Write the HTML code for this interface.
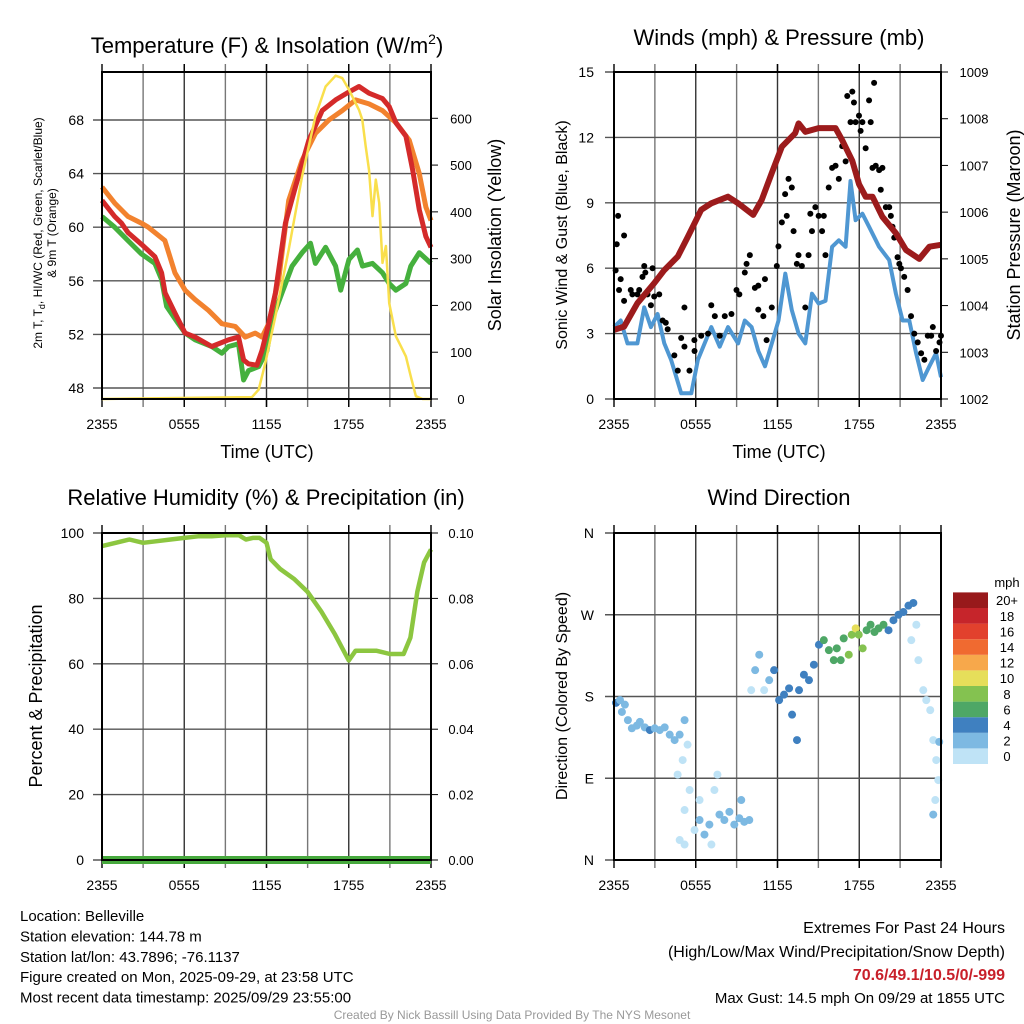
<!DOCTYPE html>
<html><head><meta charset="utf-8"><style>
html,body{margin:0;padding:0;background:#fff;}
svg{display:block;font-family:"Liberation Sans",sans-serif;}
</style></head><body>
<svg id="fig" width="1024" height="1024" viewBox="0 0 1024 1024"></svg>
<script>
// ---------- DATA ----------
const xTickLabels=["2355","0555","1155","1755","2355"];
const tempTicks=[48,52,56,60,64,68];
const solarTicks=[0,100,200,300,400,500,600];
const windTicks=[0,3,6,9,12,15];
const presTicks=[1002,1003,1004,1005,1006,1007,1008,1009];
const rhTicks=[0,20,40,60,80,100];
const precipTicks=["0.00","0.02","0.04","0.06","0.08","0.10"];
const dirTicks=["N","E","S","W","N"];
const cbLabels=["0","2","4","6","8","10","12","14","16","18","20+"];
const cbColors=["#bfe3f6","#7db9e2","#3f80c0","#4ea766","#84c250","#e6de5a","#f7a84b","#f06a30","#e2412d","#c6252b","#98191b"];

const redT=[0,0.93,1.42,1.9,2.9,3.86,4.35,4.6,5.32,6.06,6.79,8.01,9.23,9.96,10.33,10.69,11.3,11.67,12.16,12.65,13.38,14.11,15.09,16.06,17.04,18.02,18.75,19.48,20.46,20.95,21.44,22.17,22.66,23.15,23.63,24];
const redV=[62.0,60.8,60.3,59.6,58.7,57.8,56.6,55.1,53.6,52.1,51.8,51.1,51.6,51.8,50.1,49.8,49.7,50.8,52.8,55.1,60.3,63.0,66.5,68.7,69.5,70.1,70.5,70.0,69.6,69.0,67.8,66.8,64.3,61.3,59.3,58.5];
const orT=[0,0.93,1.9,2.88,3.37,4.59,5.32,6.06,6.79,7.76,8.74,9.72,10.45,11.18,11.67,12.16,12.89,13.62,14.6,15.57,16.55,17.53,18.5,19.48,20.46,21.44,22.41,23.15,23.63,24];
const orV=[63.0,61.8,60.8,60.3,60.0,59.0,56.6,55.3,54.6,53.8,52.8,52.6,51.8,52.1,51.8,52.8,56.1,62.0,65.0,67.0,68.0,68.7,69.5,69.2,68.7,67.8,66.5,64.0,61.5,60.5];
const grT=[0,0.93,1.9,2.88,3.86,4.35,4.71,5.57,6.06,6.79,8.01,8.74,9.23,9.96,10.33,10.69,11.43,12.04,12.4,13.13,13.87,14.6,15.21,15.57,16.31,17.04,17.41,18.02,18.63,19.0,19.73,20.46,20.95,21.44,22.17,22.53,23.15,24];
const grV=[60.8,60.0,59.0,58.0,57.3,56.1,54.1,52.8,52.1,51.6,51.1,50.6,51.1,51.3,48.6,49.3,49.6,50.8,53.1,55.1,57.1,58.1,58.8,57.3,58.5,57.1,55.3,57.6,58.3,57.1,57.3,56.6,55.8,55.3,55.8,57.1,58.1,57.3];
const solT=[0,10.94,11.43,11.91,12.65,13.62,14.6,15.57,16.31,17.04,17.53,18.02,18.75,18.99,19.24,19.48,19.73,19.97,20.22,20.46,20.71,20.95,21.44,21.8,22.17,22.53,22.9,23.39,24];
const solV=[0,4,20,77,177,319,476,604,668,691,686,661,618,597,540,490,391,469,419,291,327,205,134,113,91,48,6,0,0];

const windT=[0,0.49,0.99,1.72,2.22,2.71,3.2,3.69,4.19,4.93,5.67,6.16,7.14,7.76,8.37,9.11,9.6,10.1,10.59,11.08,11.58,12.07,12.57,13.05,13.55,14.04,14.53,15.02,15.52,16.01,16.5,17.0,17.36,17.73,18.23,18.72,19.46,20.2,20.69,21.18,21.67,22.17,22.66,23.15,23.64,24];
const windV=[3.3,3.6,2.55,2.55,4.2,3.3,3.9,2.55,1.8,0.26,0.26,1.8,3.3,2.4,3.3,2.55,3.6,3.3,2.2,1.5,2.55,3.6,5.75,4.08,3.0,2.55,4.83,4.38,4.5,6.98,7.28,6.98,10.0,8.2,8.5,7.9,6.98,6.37,4.83,3.6,3.6,2.1,0.87,1.5,2.1,1.0];
const gustT=[0.12,0.2,0.3,0.49,0.74,0.37,0.74,1.23,1.72,2.09,2.22,2.46,2.71,2.83,3.32,3.57,3.94,4.43,4.68,4.93,5.17,5.54,5.91,6.4,6.9,7.14,7.76,8.13,8.62,8.99,9.6,9.97,10.34,10.59,11.2,11.58,11.95,12.07,12.32,12.56,12.81,13.05,13.18,13.42,13.79,14.04,14.28,14.41,14.78,15.27,15.52,15.76,16.26,16.75,17.12,17.49,17.36,17.98,18.1,18.47,18.72,18.97,19.09,19.46,19.58,19.95,20.32,20.57,20.94,21.3,21.55,21.8,22.29,22.78,23.03,23.4,23.64,24.0,3.8,5.17,5.9,7.4,9.2,9.73,10.59,10.96,11.08,12.68,13.54,14.53,15.02,15.4,16.01,16.5,17.0,17.61,17.73,18.23,18.84,19.21,19.7,20.2,20.44,20.81,21.06,22.04,22.54,23.28,23.89,1.35,1.85,2.3,2.95];
const gustV=[5.9,7.1,8.4,5.5,7.5,5.0,4.5,5.0,4.8,5.6,6.1,4.8,4.3,6.0,4.8,3.6,3.2,2.0,1.3,2.8,4.2,1.3,2.2,2.9,3.0,4.3,2.9,3.8,3.9,5.0,5.8,6.6,5.1,4.1,2.7,4.2,6.1,7.0,8.1,9.4,10.1,9.7,7.7,6.2,6.1,4.2,6.6,8.5,8.8,7.7,6.6,9.7,10.7,11.6,13.9,14.1,12.7,13.0,12.3,11.5,13.7,10.6,14.5,10.5,9.6,8.8,8.4,7.4,6.2,5.6,5.0,3.8,2.6,1.8,2.9,3.3,2.2,2.9,3.5,2.4,2.7,3.8,4.8,6.2,5.2,3.8,5.5,8.4,6.6,7.7,8.4,8.4,10.6,10.1,10.9,13.6,12.7,12.7,12.7,10.7,10.6,8.8,7.9,6.5,6.0,3.0,2.1,2.9,2.6,4.8,5.0,5.8,4.7];
const presT=[0,0.74,1.72,2.96,3.69,4.68,5.42,6.4,7.14,8.37,9.11,10.22,10.84,11.58,12.32,13.3,13.55,14.04,15.02,16.26,16.75,17.49,17.98,18.47,18.97,19.7,20.69,21.43,22.41,23.15,24];
const presV=[1003.48,1003.55,1004.05,1004.48,1004.76,1005.05,1005.47,1006.05,1006.19,1006.33,1006.19,1005.94,1006.26,1006.84,1007.4,1007.69,1007.9,1007.72,1007.8,1007.8,1007.54,1007.1,1006.6,1006.33,1006.33,1005.9,1005.55,1005.19,1005.0,1005.26,1005.3];

const rhT=[0,1,2,3,4,5,6,7,8,9,10,10.5,11,11.5,12,12.3,13,14,15,16,17,17.5,18,18.5,19,20,21,22,22.5,23,23.5,24];
const rhV=[96,97,98,97,97.5,98,98.5,99,99,99.3,99.3,98,98.5,98.5,97,92,89,86,82,76,69,65,61,64,64,64,63,63,68,82,91,95];
const precipT=[0,24];
const precipV=[0,0];

const dirT=[0.15,0.44,0.8,0.58,1.02,1.31,1.68,1.9,2.26,2.63,2.99,3.36,3.72,4.09,4.45,4.82,5.18,5.4,5.04,4.67,5.55,5.18,5.91,6.28,6.64,7.0,7.37,7.59,7.15,7.74,8.1,8.47,8.83,9.2,9.56,9.93,9.34,6.28,4.82,5.18,10.07,10.36,10.66,11.02,11.39,11.75,12.12,12.48,12.85,13.07,13.43,13.58,13.94,14.31,14.67,15.04,15.4,15.77,16.13,16.35,16.64,16.86,17.23,17.45,17.74,17.96,18.25,18.54,18.83,19.12,19.42,19.78,20.15,20.51,20.88,21.24,21.61,21.97,22.19,21.82,22.34,22.7,22.92,23.21,23.43,23.65,23.8,23.58,23.43,23.87];
const dirV=[173,176,171,163,154,145,148,152,146,143,145,143,146,138,132,138,154,127,110,94,77,55,33,44,28,39,77,94,17,50,44,53,39,46,42,44,66,66,22,17,187,209,226,187,198,209,176,182,189,160,132,187,204,198,215,237,242,231,220,233,220,244,226,248,255,248,233,253,259,251,255,259,253,264,270,273,280,283,259,242,220,187,176,165,132,110,88,66,50,130];
const dirS=[4.5,2.8,2.8,2.2,2.8,2.8,2.8,2.8,2.8,4.5,2.8,2.8,2.8,2.2,2.2,2.2,2.2,1.5,1.5,1.5,0.8,1.5,1.5,2.2,2.2,2.2,1.5,1.5,1.5,2.2,2.2,2.2,2.2,2.2,2.8,2.2,2.2,1.5,0.8,0.8,1.5,2.8,2.2,1.5,2.2,4.5,4.5,4.5,4.5,4.5,4.5,4.5,4.5,4.5,4.5,4.5,6.5,6.5,6.5,6.5,6.5,6.5,8.5,8.5,10.3,8.5,8.5,6.5,6.5,6.5,6.5,6.5,4.5,4.5,4.5,4.5,4.5,4.5,1.5,1.5,1.5,1.5,1.5,1.5,1.5,1.5,1.5,1.5,2.8,2.8];

// ---------- HELPERS ----------
const NS="http://www.w3.org/2000/svg";
const svg=document.getElementById('fig');
function mk(tag,attrs,parent){const e=document.createElementNS(NS,tag);for(const k in attrs)e.setAttribute(k,attrs[k]);(parent||svg).appendChild(e);return e;}
function txt(s,x,y,size,anchor,parent,extra){const e=mk('text',Object.assign({x:x,y:y,'font-size':size,'text-anchor':anchor||'middle',fill:'#000'},extra||{}),parent);e.textContent=s;return e;}
function lin(d0,d1,r0,r1){return v=>r0+(v-d0)/(d1-d0)*(r1-r0);}
function pathD(ts,vs,sx,sy){return ts.map((t,i)=>(i?'L':'M')+sx(t).toFixed(1)+','+sy(vs[i]).toFixed(1)).join('');}

function frame(name,x0,x1,y0,y1,sx){
  const g=mk('g',{});
  
  
  for(let h=3;h<24;h+=3){mk('line',{x1:sx(h),x2:sx(h),y1:y0-8,y2:y1+8,stroke:(h%6?'#777':'#333'),'stroke-width':1.4},g);}
  const xl=mk('g',{});
  
  
  xTickLabels.forEach((s,i)=>{const x=sx(i*6);mk('line',{x1:x,x2:x,y1:y1,y2:y1+8,stroke:'#000','stroke-width':1.4},xl);mk('line',{x1:x,x2:x,y1:y0-8,y2:y0,stroke:'#000','stroke-width':1.4},xl);txt(s,x,y1+30,14,'middle',xl);});
  return g;
}
function border(name,x0,x1,y0,y1){const r=mk('rect',{x:x0,y:y0,width:x1-x0,height:y1-y0,fill:'none',stroke:'#000','stroke-width':2});
  
  }
function hgrid(g,x0,x1,y){mk('line',{x1:x0-9,x2:x1,y1:y,y2:y,stroke:'#555','stroke-width':1.4},g);}

// ---------- PANEL 1: TEMPERATURE ----------
(function(){
  const x0=102,x1=431,y0=72,y1=399;
  const sx=lin(0,24,x0,x1), sy=lin(48,68,388,120), ss=lin(0,600,399,118.3);
  frame('temp',x0,x1,y0,y1,sx);
  const ty=mk('g',{});
  
  
  tempTicks.forEach(v=>{const y=sy(v);hgrid(ty,x0,x1,y);txt(String(v),x0-18,y+5,14,'end',ty);});
  const sr=mk('g',{});
  
  
  solarTicks.forEach(v=>{const y=ss(v);mk('line',{x1:x1,x2:x1+7,y1:y,y2:y,stroke:'#000'},sr);txt(String(v),x1+30,y+5,13,'middle',sr);});
  const series=[[grT,grV,'#45b03d','temp-dewpoint-line',5],[orT,orV,'#f2822e','temp-9m-line',5],[redT,redV,'#d42a2a','temp-2m-line',5]];
  const gr=mk('g',{});
  
  
  series.forEach(s=>{const p=mk('path',{d:pathD(s[0],s[1],sx,sy),fill:'none',stroke:s[2],'stroke-width':s[4],'stroke-linejoin':'round'},gr);
    
    });
  const sp=mk('path',{d:pathD(solT,solV,sx,ss),fill:'none',stroke:'#f9df4c','stroke-width':2.5,'stroke-linejoin':'round'});
  
  
  border('temp',x0,x1,y0,y1);
  const t=txt('',267,53,22,'middle');
  
  
  t.innerHTML='Temperature (F) &amp; Insolation (W/m<tspan dy="-9" font-size="14">2</tspan><tspan dy="9">)</tspan>';
  const yl=mk('text',{transform:'translate(42,233) rotate(-90)','font-size':12,'text-anchor':'middle'});
  
  
  yl.innerHTML='2m T, T<tspan dy="3" font-size="9">d</tspan><tspan dy="-3">, HI/WC (Red, Green, Scarlet/Blue)</tspan>';
  const yl2=txt('& 9m T (Orange)',0,0,12,'middle',null,{transform:'translate(56,233) rotate(-90)'});
  
  
  const rl=txt('Solar Insolation (Yellow)',0,0,18,'middle',null,{transform:'translate(501,235) rotate(-90)'});
  
  
  const xl=txt('Time (UTC)',267,458,18);
  
  
})();

// ---------- PANEL 2: WINDS ----------
(function(){
  const x0=614,x1=941,y0=72,y1=399;
  const sx=lin(0,24,x0,x1), sy=lin(0,15,y1,y0), sp=lin(1002,1009,y1,y0);
  frame('wind',x0,x1,y0,y1,sx);
  const ty=mk('g',{});
  
  
  windTicks.forEach(v=>{const y=sy(v);hgrid(ty,x0,x1,y);txt(String(v),x0-20,y+5,14,'end',ty);});
  const pr=mk('g',{});
  
  
  presTicks.forEach(v=>{const y=sp(v);mk('line',{x1:x1,x2:x1+7,y1:y,y2:y,stroke:'#000'},pr);txt(String(v),x1+33,y+5,13,'middle',pr);});
  const wl=mk('path',{d:pathD(windT,windV,sx,sy),fill:'none',stroke:'#4f97d2','stroke-width':4,'stroke-linejoin':'round'});
  
  
  const gg=mk('g',{});
  
  
  gustT.forEach((t,i)=>{mk('circle',{cx:sx(t),cy:sy(gustV[i]),r:3,fill:'#000'},gg);});
  const pl=mk('path',{d:pathD(presT,presV,sx,sp),fill:'none',stroke:'#9c1b1c','stroke-width':6,'stroke-linejoin':'round'});
  
  
  border('wind',x0,x1,y0,y1);
  const t=txt('Winds (mph) & Pressure (mb)',779,45,22);
  
  
  const yl=txt('Sonic Wind & Gust (Blue, Black)',0,0,16,'middle',null,{transform:'translate(567,235) rotate(-90)'});
  
  
  const rl=txt('Station Pressure (Maroon)',0,0,18,'middle',null,{transform:'translate(1020,235) rotate(-90)'});
  
  
  const xl=txt('Time (UTC)',779,458,18);
  
  
})();

// ---------- PANEL 3: RH ----------
(function(){
  const x0=102,x1=431,y0=533,y1=860;
  const sx=lin(0,24,x0,x1), sy=lin(0,100,y1,y0), spp=lin(0,0.1,y1,y0);
  frame('rh',x0,x1,y0,y1,sx);
  const ty=mk('g',{});
  
  
  rhTicks.forEach(v=>{const y=sy(v);hgrid(ty,x0,x1,y);txt(String(v),x0-18,y+5,14,'end',ty);});
  const pr=mk('g',{});
  
  
  precipTicks.forEach(v=>{const y=spp(parseFloat(v));mk('line',{x1:x1,x2:x1+7,y1:y,y2:y,stroke:'#000'},pr);txt(v,x1+30,y+5,13,'middle',pr);});
  const rl=mk('path',{d:pathD(rhT,rhV,sx,sy),fill:'none',stroke:'#8cc640','stroke-width':4.5,'stroke-linejoin':'round'});
  
  
  const pl=mk('path',{d:pathD(precipT,precipV,sx,spp),fill:'none',stroke:'#47a93d','stroke-width':8});
  
  
  border('rh',x0,x1,y0,y1);
  const t=txt('Relative Humidity (%) & Precipitation (in)',266,505,22);
  
  
  const yl=txt('Percent & Precipitation',0,0,18,'middle',null,{transform:'translate(42,696) rotate(-90)'});
  
  
})();

// ---------- PANEL 4: WIND DIRECTION ----------
(function(){
  const x0=614,x1=941,y0=533,y1=860;
  const sx=lin(0,24,x0,x1), sy=lin(0,360,y1,y0);
  frame('dir',x0,x1,y0,y1,sx);
  const ty=mk('g',{});
  
  
  dirTicks.forEach((s,i)=>{const y=sy(i*90);hgrid(ty,x0,x1,y);txt(s,x0-20,y+5,14,'end',ty);});
  const dg=mk('g',{});
  
  
  dirT.forEach((t,i)=>{const bin=Math.min(10,Math.floor(dirS[i]/2));
    mk('circle',{cx:sx(t),cy:sy(dirV[i]),r:4,fill:cbColors[bin]},dg);});
  border('dir',x0,x1,y0,y1);
  const t=txt('Wind Direction',779,505,22);
  
  
  const yl=txt('Direction (Colored By Speed)',0,0,16,'middle',null,{transform:'translate(567,696) rotate(-90)'});
  
  
  const cb=mk('g',{});
  
  
  const cy0=764,bh=15.6;
  cbColors.forEach((c,i)=>{mk('rect',{x:953,y:cy0-(i+1)*bh,width:35,height:bh,fill:c},cb);
    txt(cbLabels[i],1007,cy0-i*bh-bh/2+5,13,'middle',cb);});
  txt('mph',1007,587,13,'middle',cb);
})();

// ---------- FOOTER TEXT ----------
(function(){
  const info=["Location: Belleville","Station elevation: 144.78 m","Station lat/lon: 43.7896; -76.1137","Figure created on Mon, 2025-09-29, at 23:58 UTC","Most recent data timestamp: 2025/09/29 23:55:00"];
  const g=mk('g',{});
  
  
  info.forEach((s,i)=>txt(s,20,921+i*20.4,15,'start',g));
  const r=mk('g',{});
  
  
  txt('Extremes For Past 24 Hours',1005,933,16,'end',r);
  txt('(High/Low/Max Wind/Precipitation/Snow Depth)',1005,957,16,'end',r);
  txt('70.6/49.1/10.5/0/-999',1005,980,16,'end',r,{fill:'#c8202a','font-weight':'bold'});
  txt('Max Gust: 14.5 mph On 09/29 at 1855 UTC',1005,1003,15,'end',r);
  const c=txt('Created By Nick Bassill Using Data Provided By The NYS Mesonet',512,1019,12,'middle',null,{fill:'#999'});
  
  
})();
</script>
</body></html>
